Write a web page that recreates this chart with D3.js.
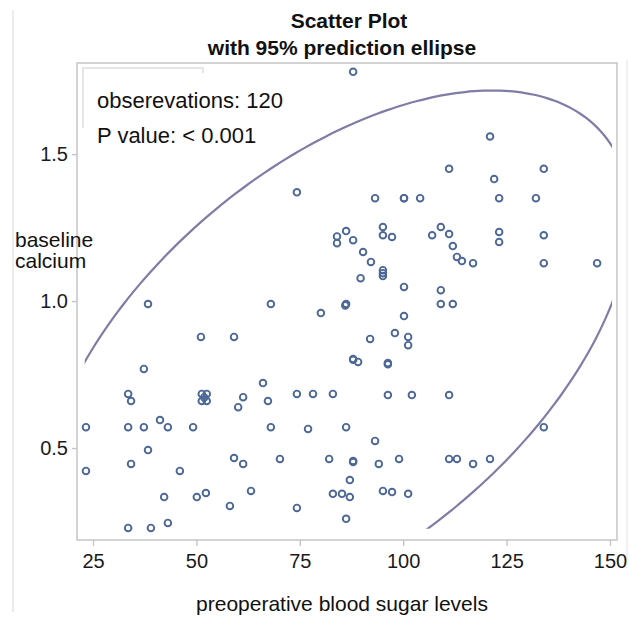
<!DOCTYPE html>
<html>
<head>
<meta charset="utf-8">
<script src="https://cdn.jsdelivr.net/npm/d3@7"></script>
<style>
  body { margin: 0; background: #fff; }
  text { font-family: "Liberation Sans", Arial, sans-serif; }
</style>
</head>
<body>
<svg id="chart" width="630" height="618"></svg>
<script>
// preoperative blood sugar (x) and baseline calcium (y)
var sugar = [87.9, 74.3, 121.0, 111.1, 134.0, 122.0, 93.2, 100.2, 104.1, 123.2,
  132.1, 84.0, 84.0, 86.2, 87.9, 95.1, 95.1, 97.3, 90.3, 92.2,
  89.7, 95.1, 95.1, 100.2, 107.0, 109.1, 111.1, 112.0, 113.0, 114.2,
  116.9, 123.2, 123.2, 134.0, 134.0, 146.9, 109.1, 38.3, 68.0, 80.1,
  86.2, 51.1, 59.1, 87.9, 89.1, 37.3, 66.1, 33.5, 34.2, 51.3,
  52.5, 51.3, 52.5, 61.3, 60.1, 67.3, 74.3, 78.2, 83.0, 23.3,
  33.5, 37.3, 41.2, 43.1, 49.2, 68.0, 77.0, 86.2, 38.3, 23.3,
  34.2, 46.0, 59.1, 61.3, 70.2, 82.1, 87.9, 87.9, 87.1, 42.2,
  50.1, 52.3, 63.2, 58.1, 74.3, 83.0, 85.2, 87.1, 86.2, 33.5,
  39.0, 43.1, 109.1, 112.0, 100.2, 92.0, 98.0, 101.2, 101.2, 96.3,
  96.3, 96.3, 102.1, 111.1, 134.0, 93.2, 94.1, 99.0, 111.1, 113.0,
  116.9, 121.0, 95.1, 97.3, 101.2, 95.1, 86.0, 51.9, 87.9, 100.2];
var calcium = [1.78, 1.37, 1.56, 1.45, 1.45, 1.415, 1.35, 1.35, 1.35, 1.35,
  1.35, 1.22, 1.197, 1.238, 1.207, 1.252, 1.224, 1.218, 1.167, 1.133,
  1.078, 1.105, 1.085, 1.048, 1.224, 1.252, 1.228, 1.187, 1.15, 1.136,
  1.129, 1.235, 1.201, 1.224, 1.129, 1.129, 1.037, 0.99, 0.99, 0.959,
  0.99, 0.878, 0.878, 0.803, 0.793, 0.769, 0.721, 0.684, 0.66, 0.684,
  0.684, 0.66, 0.66, 0.673, 0.639, 0.66, 0.684, 0.684, 0.684, 0.571,
  0.571, 0.571, 0.595, 0.571, 0.571, 0.571, 0.565, 0.571, 0.493, 0.422,
  0.446, 0.422, 0.466, 0.446, 0.463, 0.463, 0.456, 0.452, 0.391, 0.333,
  0.333, 0.347, 0.354, 0.303, 0.296, 0.344, 0.344, 0.333, 0.259, 0.228,
  0.228, 0.245, 0.99, 0.99, 0.949, 0.871, 0.891, 0.878, 0.85, 0.789,
  0.785, 0.68, 0.68, 0.68, 0.571, 0.524, 0.446, 0.463, 0.463, 0.463,
  0.446, 0.463, 0.354, 0.35, 0.344, 1.095, 0.985, 0.672, 0.80, 1.35];

var xTicks = [25, 50, 75, 100, 125, 150];
var yTicks = [0.5, 1.0, 1.5];
var titleLines = ["Scatter Plot", "with 95% prediction ellipse"];
var insetLines = ["obserevations: 120", "P value: < 0.001"];

var svg = d3.select("#chart"),
    margin = {top: 63, right: 13, bottom: 78, left: 77},
    width = 630 - margin.left - margin.right,
    height = 618 - margin.top - margin.bottom;

var x = d3.scaleLinear().domain([21.13, 151.7]).range([margin.left, margin.left + width]);
var y = d3.scaleLinear().domain([0.187, 1.81]).range([margin.top + height, margin.top]);

// faint scan edges
svg.append("line").attr("x1", 13).attr("x2", 13).attr("y1", 10).attr("y2", 612)
  .attr("stroke", "#e6e6e6").attr("stroke-width", 1.5);
svg.append("line").attr("x1", 627).attr("x2", 627).attr("y1", 60).attr("y2", 560)
  .attr("stroke", "#ececec").attr("stroke-width", 1.5);

// title
svg.append("g").selectAll("text")
  .data(titleLines)
  .enter().append("text")
    .attr("x", function(d, i) { return i == 0 ? 349 : 342; })
    .attr("y", function(d, i) { return 28 + i * 27; })
    .attr("text-anchor", "middle")
    .attr("font-size", "21px")
    .attr("font-weight", "bold")
    .attr("fill", "#111")
    .text(function(d) { return d; });

// ellipse is clipped to the data area, a bit inside the frame
svg.append("defs").append("clipPath").attr("id", "dataclip")
  .append("rect")
    .attr("x", x(23)).attr("y", y(1.8))
    .attr("width", x(150.5) - x(23)).attr("height", y(0.225) - y(1.8));

// frame
svg.append("rect")
  .attr("x", margin.left).attr("y", margin.top)
  .attr("width", width).attr("height", height)
  .attr("fill", "none").attr("stroke", "#c9c9c9").attr("stroke-width", 1.6);

// faint inset box
svg.append("path")
  .attr("d", "M83,76 V68 H203 V73 M83,68 V128")
  .attr("fill", "none").attr("stroke", "#e6e6e6").attr("stroke-width", 2);

//x axis
var xAxis = svg.append("g")
  .attr("transform", "translate(0," + (margin.top + height) + ")")
  .call(d3.axisBottom(x).tickValues(xTicks).tickSize(6).tickPadding(8));
//y axis
var yAxis = svg.append("g")
  .attr("transform", "translate(" + margin.left + ",0)")
  .call(d3.axisLeft(y).tickValues(yTicks).tickFormat(d3.format(".1f")).tickSize(5).tickPadding(4));

[xAxis, yAxis].forEach(function(a) {
  a.select(".domain").remove();
  a.selectAll(".tick line").attr("stroke", "#c4c4c4").attr("stroke-width", 1.4);
  a.selectAll(".tick text")
    .attr("font-size", "20px")
    .attr("font-family", "'Liberation Sans', Arial, sans-serif")
    .attr("fill", "#1a1a1a");
});

// 95% prediction ellipse from the sample mean and covariance
var n = sugar.length,
    mx = d3.mean(sugar), my = d3.mean(calcium);
var sxx = 0, syy = 0, sxy = 0;
for (var i = 0; i < n; i++) {
  sxx += (sugar[i] - mx) * (sugar[i] - mx);
  syy += (calcium[i] - my) * (calcium[i] - my);
  sxy += (sugar[i] - mx) * (calcium[i] - my);
}
sxx /= n - 1; syy /= n - 1; sxy /= n - 1;
var tr = sxx + syy, det = sxx * syy - sxy * sxy,
    l1 = tr / 2 + Math.sqrt(tr * tr / 4 - det),
    l2 = tr / 2 - Math.sqrt(tr * tr / 4 - det),
    theta = 0.5 * Math.atan2(2 * sxy, sxx - syy);
var fcrit = 3.073; // F(0.95; 2, n-2)
var c = Math.sqrt(2 * (n - 1) * (n + 1) / (n * (n - 2)) * fcrit);
var ell = d3.range(0, 361, 2).map(function(a) {
  var t = a * Math.PI / 180,
      p = c * Math.sqrt(l1) * Math.cos(t), q = c * Math.sqrt(l2) * Math.sin(t);
  return [mx + p * Math.cos(theta) - q * Math.sin(theta),
          my + p * Math.sin(theta) + q * Math.cos(theta)];
});
svg.append("path")
  .datum(ell)
  .attr("clip-path", "url(#dataclip)")
  .attr("fill", "none")
  .attr("stroke", "#7f7ca6")
  .attr("stroke-width", 2.2)
  .attr("d", d3.line().curve(d3.curveCardinalClosed)
    .x(function(d) { return x(d[0]); })
    .y(function(d) { return y(d[1]); }));

// points
svg.append("g")
  .selectAll("circle")
  .data(d3.range(n))
  .enter().append("circle")
    .attr("cx", function(i) { return x(sugar[i]); })
    .attr("cy", function(i) { return y(calcium[i]); })
    .attr("r", 3.3)
    .attr("fill", "none")
    .attr("stroke", "#4d6897")
    .attr("stroke-width", 1.9);

// inset text
svg.append("g").selectAll("text")
  .data(insetLines)
  .enter().append("text")
    .attr("x", 97)
    .attr("y", function(d, i) { return 108 + i * 35; })
    .attr("font-size", "22px")
    .attr("fill", "#111")
    .text(function(d) { return d; });

// axis titles
svg.append("text")
  .attr("x", 342).attr("y", 611)
  .attr("text-anchor", "middle")
  .attr("font-size", "21px")
  .attr("fill", "#111")
  .text("preoperative blood sugar levels");

svg.append("g").selectAll("text")
  .data(["baseline", "calcium"])
  .enter().append("text")
    .attr("x", 15)
    .attr("y", function(d, i) { return 247 + i * 21; })
    .attr("font-size", "21px")
    .attr("fill", "#111")
    .text(function(d) { return d; });
</script>
</body>
</html>
